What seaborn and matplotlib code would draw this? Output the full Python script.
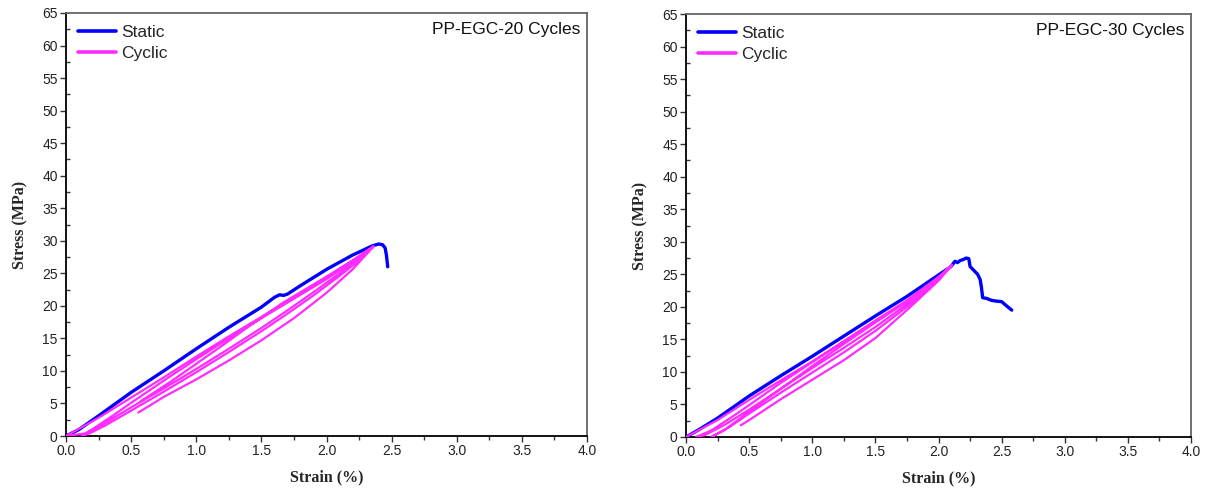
import matplotlib
matplotlib.use("Agg")
import matplotlib.pyplot as plt
from matplotlib.ticker import MultipleLocator, FormatStrFormatter
import pandas as pd
import seaborn as sns

# ---- PP-EGC, 20 cycles ----
static20_strain = [0.0, 0.1, 0.25, 0.5, 0.75, 1.0, 1.25, 1.5, 1.6, 1.64, 1.67, 1.7,
                   1.8, 2.0, 2.2, 2.35, 2.4, 2.43, 2.45, 2.46, 2.47]
static20_stress = [0.0, 1.0, 3.1, 6.7, 10.0, 13.4, 16.7, 19.8, 21.3, 21.7, 21.6, 21.8,
                   23.1, 25.6, 27.8, 29.2, 29.5, 29.4, 28.9, 27.8, 26.0]

cyc20_strain = [0.57, 0.8, 1.0, 1.2, 1.4, 1.66, 1.85, 2.05, 2.2, 2.36,
                2.25, 2.1, 1.9, 1.7, 1.5, 1.25, 1.0, 0.75, 0.5, 0.3, 0.15, 0.0,
                0.1, 0.25, 0.5, 0.75, 1.0, 1.25, 1.5, 1.75, 2.0, 2.2, 2.36,
                2.25, 2.1, 1.9, 1.7, 1.5, 1.25, 1.0, 0.75, 0.5, 0.3, 0.18, 0.12,
                0.2, 0.35, 0.5, 0.75, 1.0, 1.25, 1.5, 1.75, 2.0, 2.2, 2.36,
                2.2, 2.0, 1.75, 1.5, 1.25, 1.0, 0.75, 0.555]
cyc20_stress = [5.3, 8.3, 11.1, 13.9, 16.8, 20.4, 22.7, 25.1, 27.0, 29.1,
                27.3, 25.0, 22.1, 19.3, 16.6, 13.4, 10.3, 7.3, 4.4, 2.0, 0.4, 0.0,
                1.1, 2.8, 5.9, 9.0, 12.2, 15.3, 18.3, 21.3, 24.3, 26.9, 29.1,
                27.0, 24.6, 21.6, 18.8, 16.1, 12.9, 9.8, 6.8, 3.9, 1.6, 0.4, 0.0,
                1.0, 3.0, 5.1, 8.5, 11.8, 15.0, 18.1, 21.1, 24.1, 26.8, 29.1,
                25.6, 22.0, 18.1, 14.7, 11.6, 8.7, 6.0, 3.6]

# ---- PP-EGC, 30 cycles ----
static30_strain = [0.0, 0.1, 0.25, 0.5, 0.75, 1.0, 1.25, 1.5, 1.75, 2.0, 2.1, 2.13,
                   2.15, 2.17, 2.2, 2.22, 2.24, 2.25, 2.28, 2.31, 2.33, 2.34, 2.35,
                   2.38, 2.42, 2.45, 2.5, 2.53, 2.58]
static30_stress = [0.0, 1.1, 2.9, 6.3, 9.4, 12.4, 15.5, 18.6, 21.6, 24.9, 26.2, 27.0,
                   26.8, 27.1, 27.3, 27.5, 27.4, 26.2, 25.6, 25.0, 24.2, 23.0, 21.4,
                   21.3, 21.0, 20.9, 20.8, 20.3, 19.5]

cyc30_strain = [0.0, 0.25, 0.5, 0.75, 1.0, 1.25, 1.5, 1.75, 2.0, 2.105,
                2.0, 1.75, 1.5, 1.25, 1.0, 0.75, 0.5, 0.3, 0.15, 0.08,
                0.2, 0.35, 0.5, 0.75, 1.0, 1.25, 1.5, 1.75, 2.0, 2.105,
                2.0, 1.75, 1.5, 1.25, 1.0, 0.75, 0.5, 0.35, 0.2,
                0.3, 0.5, 0.75, 1.0, 1.25, 1.5, 1.75, 2.0, 2.105,
                2.0, 1.75, 1.5, 1.25, 1.0, 0.75, 0.5, 0.434]
cyc30_stress = [0.0, 2.6, 5.7, 8.7, 11.6, 14.7, 17.9, 21.0, 24.6, 26.4,
                24.4, 20.4, 16.9, 13.7, 10.6, 7.4, 4.2, 1.8, 0.3, 0.0,
                1.0, 2.9, 4.9, 8.3, 11.5, 14.7, 17.8, 20.9, 24.3, 26.4,
                24.2, 20.0, 16.3, 13.0, 9.9, 6.8, 3.6, 1.6, 0.0,
                1.0, 3.9, 7.4, 10.9, 14.3, 17.6, 20.8, 24.3, 26.4,
                24.0, 19.5, 15.2, 11.8, 8.8, 5.8, 2.6, 1.8]

panels = [
    ("PP-EGC-20 Cycles", static20_strain, static20_stress, cyc20_strain, cyc20_stress),
    ("PP-EGC-30 Cycles", static30_strain, static30_stress, cyc30_strain, cyc30_stress),
]

sns.set_theme(style="ticks")
plt.rcParams["font.family"] = ["Liberation Sans", "DejaVu Sans"]

BLUE = "#0000FF"
MAGENTA = "#FF2BFF"

fig = plt.figure(figsize=(12.05, 4.88), dpi=100)
axes_rects = [
    [66 / 1205, 1 - 436 / 488, 521 / 1205, 423 / 488],
    [686 / 1205, 1 - 437 / 488, 505 / 1205, 423 / 488],
]

for rect, (name, s_x, s_y, c_x, c_y) in zip(axes_rects, panels):
    ax = fig.add_axes(rect)
    static_df = pd.DataFrame({"strain": s_x, "stress": s_y})
    cyclic_df = pd.DataFrame({"strain": c_x, "stress": c_y})
    sns.lineplot(data=static_df, x="strain", y="stress", sort=False, estimator=None,
                 color=BLUE, lw=2.4, ax=ax, label="Static", zorder=3)
    sns.lineplot(data=cyclic_df, x="strain", y="stress", sort=False, estimator=None,
                 color=MAGENTA, lw=1.6, ax=ax, label="Cyclic", zorder=4)

    ax.set_xlim(0, 4.0)
    ax.set_ylim(0, 65)
    ax.xaxis.set_major_locator(MultipleLocator(0.5))
    ax.xaxis.set_minor_locator(MultipleLocator(0.25))
    ax.yaxis.set_major_locator(MultipleLocator(5))
    ax.yaxis.set_minor_locator(MultipleLocator(2.5))
    ax.xaxis.set_major_formatter(FormatStrFormatter("%.1f"))
    ax.tick_params(axis="x", which="major", direction="out", length=4, width=1,
                   labelsize=10, pad=2, colors="#333333", labelcolor="#222222")
    ax.tick_params(axis="x", which="minor", direction="out", length=3, width=1,
                   colors="#333333")
    ax.tick_params(axis="y", which="major", direction="out", length=4, width=1,
                   labelsize=10, pad=2, colors="#333333", labelcolor="#222222")
    ax.tick_params(axis="y", which="minor", direction="in", length=3, width=1,
                   colors="#333333")

    for side in ("left", "bottom"):
        ax.spines[side].set_color("black")
        ax.spines[side].set_linewidth(1.3)
    for side in ("top", "right"):
        ax.spines[side].set_visible(True)
        ax.spines[side].set_color("#666666")
        ax.spines[side].set_linewidth(1.3)

    ax.set_xlabel("Strain (%)", family="Liberation Serif", fontweight="bold",
                  fontsize=11.5, labelpad=8)
    ax.set_ylabel("Stress (MPa)", family="Liberation Serif", fontweight="bold",
                  fontsize=11.5, labelpad=10)

    leg = ax.legend(loc="upper left", frameon=False, fontsize=12.5, handlelength=2.2,
                    handletextpad=0.3, borderaxespad=0.4, labelspacing=0.3,
                    borderpad=0.3)
    for line in leg.get_lines():
        line.set_linewidth(2.6)

    ax.text(0.987, 0.962, name, transform=ax.transAxes, ha="right", va="center",
            fontsize=12.5, color="#111111")

fig.savefig("out.png", dpi=100)
